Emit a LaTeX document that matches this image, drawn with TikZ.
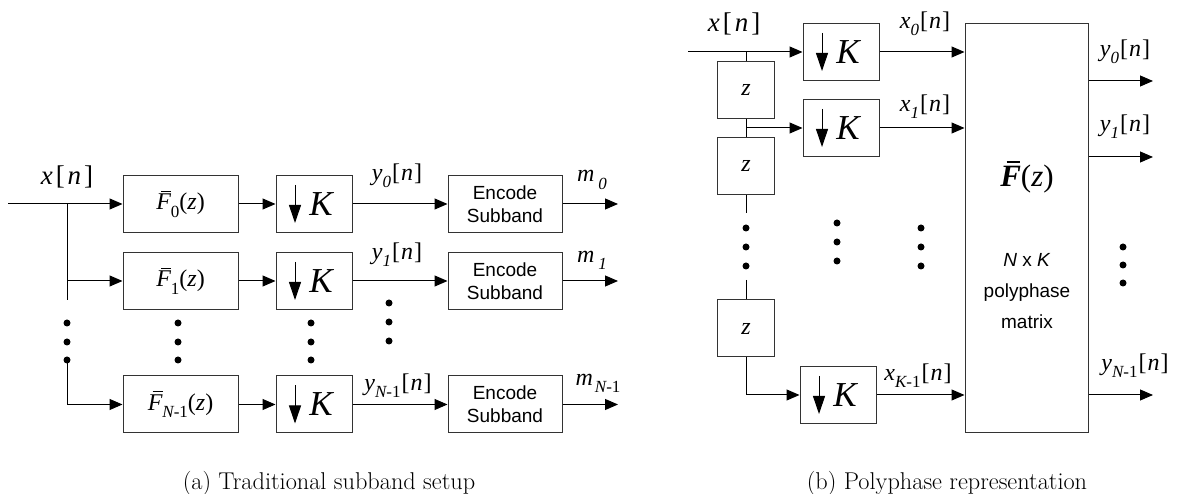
\documentclass[tikz,border=0pt]{standalone}
\usepackage{fontspec}
\newfontfamily\tnr{Liberation Serif}
\newfontfamily\arl{Liberation Sans}
\usetikzlibrary{arrows.meta, positioning, calc}

\newcommand{\lowsub}[1]{\raisebox{-0.3em}{\fontsize{17}{17}\selectfont #1}}
\newcommand{\idx}{\hspace{1pt}{\upshape[}\hspace{1pt}n\hspace{1pt}{\upshape]}}
\newcommand{\bigidx}{\hspace{3pt}{\upshape[}\hspace{3pt}n\hspace{3pt}{\upshape]}}
\newcommand{\Fbar}{\rlap{\hspace{0.2em}\rule[0.75em]{0.42em}{0.05em}}F}
\newcommand{\zarg}{{\upshape(}z{\upshape)}}

\tikzset{
  blk/.style={draw=black!80, line width=1pt, inner sep=0pt},
  fbox/.style={blk, minimum width=115pt, minimum height=57pt,
    font=\tnr\fontsize{24}{24}\selectfont\itshape},
  kbox/.style={blk, minimum width=76pt, minimum height=57pt,
    font=\tnr\fontsize{35}{35}\selectfont\itshape},
  ebox/.style={blk, minimum width=114pt, minimum height=57pt, align=center,
    font=\arl\fontsize{19}{23}\selectfont},
  zbox/.style={blk, minimum width=57pt, minimum height=57pt,
    font=\tnr\fontsize{24}{24}\selectfont\itshape},
  lbl/.style={inner sep=0pt, font=\tnr\fontsize{24}{24}\selectfont\itshape},
  biglbl/.style={inner sep=0pt, font=\tnr\fontsize{27}{27}\selectfont\itshape},
  sig/.style={-{Triangle[length=13pt,width=11pt]}},
  dnarr/.style={-{Triangle[length=18pt,width=12pt]}},
  captext/.style={anchor=base, inner sep=0pt, font=\fontsize{24.3}{29}\selectfont}
}

\begin{document}
\begin{tikzpicture}[x=1pt, y=1pt, line width=1pt]
  \useasboundingbox (0,0) rectangle (1177,494);

  % (a) traditional subband setup
  \node[fbox] (fa) at (180.5,290) {\Fbar\lowsub{\upshape 0}\zarg};
  \node[fbox] (fb) at (180.5,213) {\Fbar\lowsub{\upshape 1}\zarg};
  \node[fbox] (fc) at (180.5,89.5) {\Fbar\lowsub{N\upshape -1}\zarg};

  \node[kbox] (ka) at (314,290) {\hspace*{14pt}K};
  \node[kbox] (kb) at (314,213) {\hspace*{14pt}K};
  \node[kbox] (kc) at (314,89.5) {\hspace*{14pt}K};

  \node[ebox] (ea) at (505,290) {Encode\\Subband};
  \node[ebox] (eb) at (505,213) {Encode\\Subband};
  \node[ebox] (ec) at (505,89.5) {Encode\\Subband};

  \coordinate (ina) at (8,290);
  \coordinate (ja) at (67,290);
  \coordinate (jb) at (67,213);
  \coordinate (jd) at (67,194);
  \coordinate (je) at (67,134);
  \coordinate (ma) at (618,290);
  \coordinate (mb) at (618,213);
  \coordinate (mc) at (618,89.5);

  \draw[sig] (ina) -- (fa);
  \draw (ja) -- (jd);
  \draw[sig] (jb) -- (fb);
  \draw[sig] (je) |- (fc);
  \draw[sig] (fa) -- (ka);
  \draw[sig] (fb) -- (kb);
  \draw[sig] (fc) -- (kc);
  \draw[sig] (ka) -- (ea);
  \draw[sig] (kb) -- (eb);
  \draw[sig] (kc) -- (ec);
  \draw[sig] (ea) -- (ma);
  \draw[sig] (eb) -- (mb);
  \draw[sig] (ec) -- (mc);

  \node[biglbl] (xa) at (67,317) {x\bigidx};
  \node[lbl] (ya) at (397,318) {y\lowsub{0}\idx};
  \node[lbl] (yb) at (397,239) {y\lowsub{1}\idx};
  \node[lbl] (yc) at (398,108) {y\lowsub{N\upshape -1}\idx};
  \node[lbl] (m0) at (592,314) {m\hspace{4pt}\lowsub{0}};
  \node[lbl] (m1) at (592,234) {m\hspace{4pt}\lowsub{1}};
  \node[lbl] (m2) at (598,111) {m\hspace{2pt}\lowsub{N\upshape -1}};

  \foreach \x/\y in {67/171, 67/152, 67/134, 178/171, 178/152, 178/134,
                     311/171, 311/152, 311/134, 389/191, 389/172, 389/153}
    \fill (\x,\y) circle (3.5);

  % (b) polyphase representation
  \node[zbox] (za) at (746,404) {z};
  \node[zbox] (zb) at (746,327.5) {z};
  \node[zbox] (zc) at (746,165.5) {z};

  \node[kbox] (pa) at (841,442) {\hspace*{14pt}K};
  \node[kbox] (pb) at (841,366) {\hspace*{14pt}K};
  \node[kbox] (pc) at (838,99) {\hspace*{14pt}K};

  \node[blk, minimum width=123pt, minimum height=409pt] (mat) at (1026.5,265.5) {};
  \node[inner sep=0pt, font=\tnr\fontsize{31}{31}\selectfont\bfseries\itshape]
    (fz) at (1027,317) {\Fbar{\mdseries\zarg}};
  \node[align=center, inner sep=0pt, font=\arl\fontsize{19}{31}\selectfont]
    (nk) at (1027,203) {\textit{N} x \textit{K}\\polyphase\\matrix};

  \coordinate (inb) at (688,442);
  \coordinate (jz) at (746,442);
  \coordinate (jy) at (746,366);
  \coordinate (zd) at (746,281);
  \coordinate (zu) at (746,214);
  \coordinate (oa) at (1153,413);
  \coordinate (ob) at (1153,337);
  \coordinate (oc) at (1153,99);

  \draw[sig] (inb) -- (pa);
  \draw (jz) -- (za);
  \draw (za) -- (zb);
  \draw[sig] (jy) -- (pb);
  \draw (zb) -- (zd);
  \draw (zu) -- (zc);
  \draw[sig] (zc) |- (pc);
  \draw[sig] (pa) -- (pa -| mat.west);
  \draw[sig] (pb) -- (pb -| mat.west);
  \draw[sig] (pc) -- (pc -| mat.west);
  \draw[sig] (oa -| mat.east) -- (oa);
  \draw[sig] (ob -| mat.east) -- (ob);
  \draw[sig] (oc -| mat.east) -- (oc);

  \node[biglbl] (xb) at (734,470) {x\bigidx};
  \node[lbl] (x0) at (925,470) {x\lowsub{0}\idx};
  \node[lbl] (x1) at (925,387) {x\lowsub{1}\idx};
  \node[lbl] (x2) at (918,118) {x\lowsub{K\upshape -1}\idx};
  \node[lbl] (y0) at (1125,442) {y\lowsub{0}\idx};
  \node[lbl] (y1) at (1125,367) {y\lowsub{1}\idx};
  \node[lbl] (y2) at (1135,128) {y\lowsub{N\upshape -1}\idx};

  \foreach \x/\y in {746/266, 746/247, 746/228, 837/271, 837/252, 837/233,
                     921/266, 921/247, 921/228, 1123/247, 1123/229, 1123/211}
    \fill (\x,\y) circle (3.5);

  % down-sampler arrows
  \foreach \k in {ka, kb, kc, pa, pb, pc}
    \draw[dnarr] ([xshift=-19pt, yshift=19pt]\k.center) -- ([xshift=-19pt, yshift=-19pt]\k.center);

  \node[captext] (capa) at (329,4) {(a)~Traditional subband setup};
  \node[captext] (capb) at (947,4) {(b)~Polyphase representation};
\end{tikzpicture}
\end{document}
